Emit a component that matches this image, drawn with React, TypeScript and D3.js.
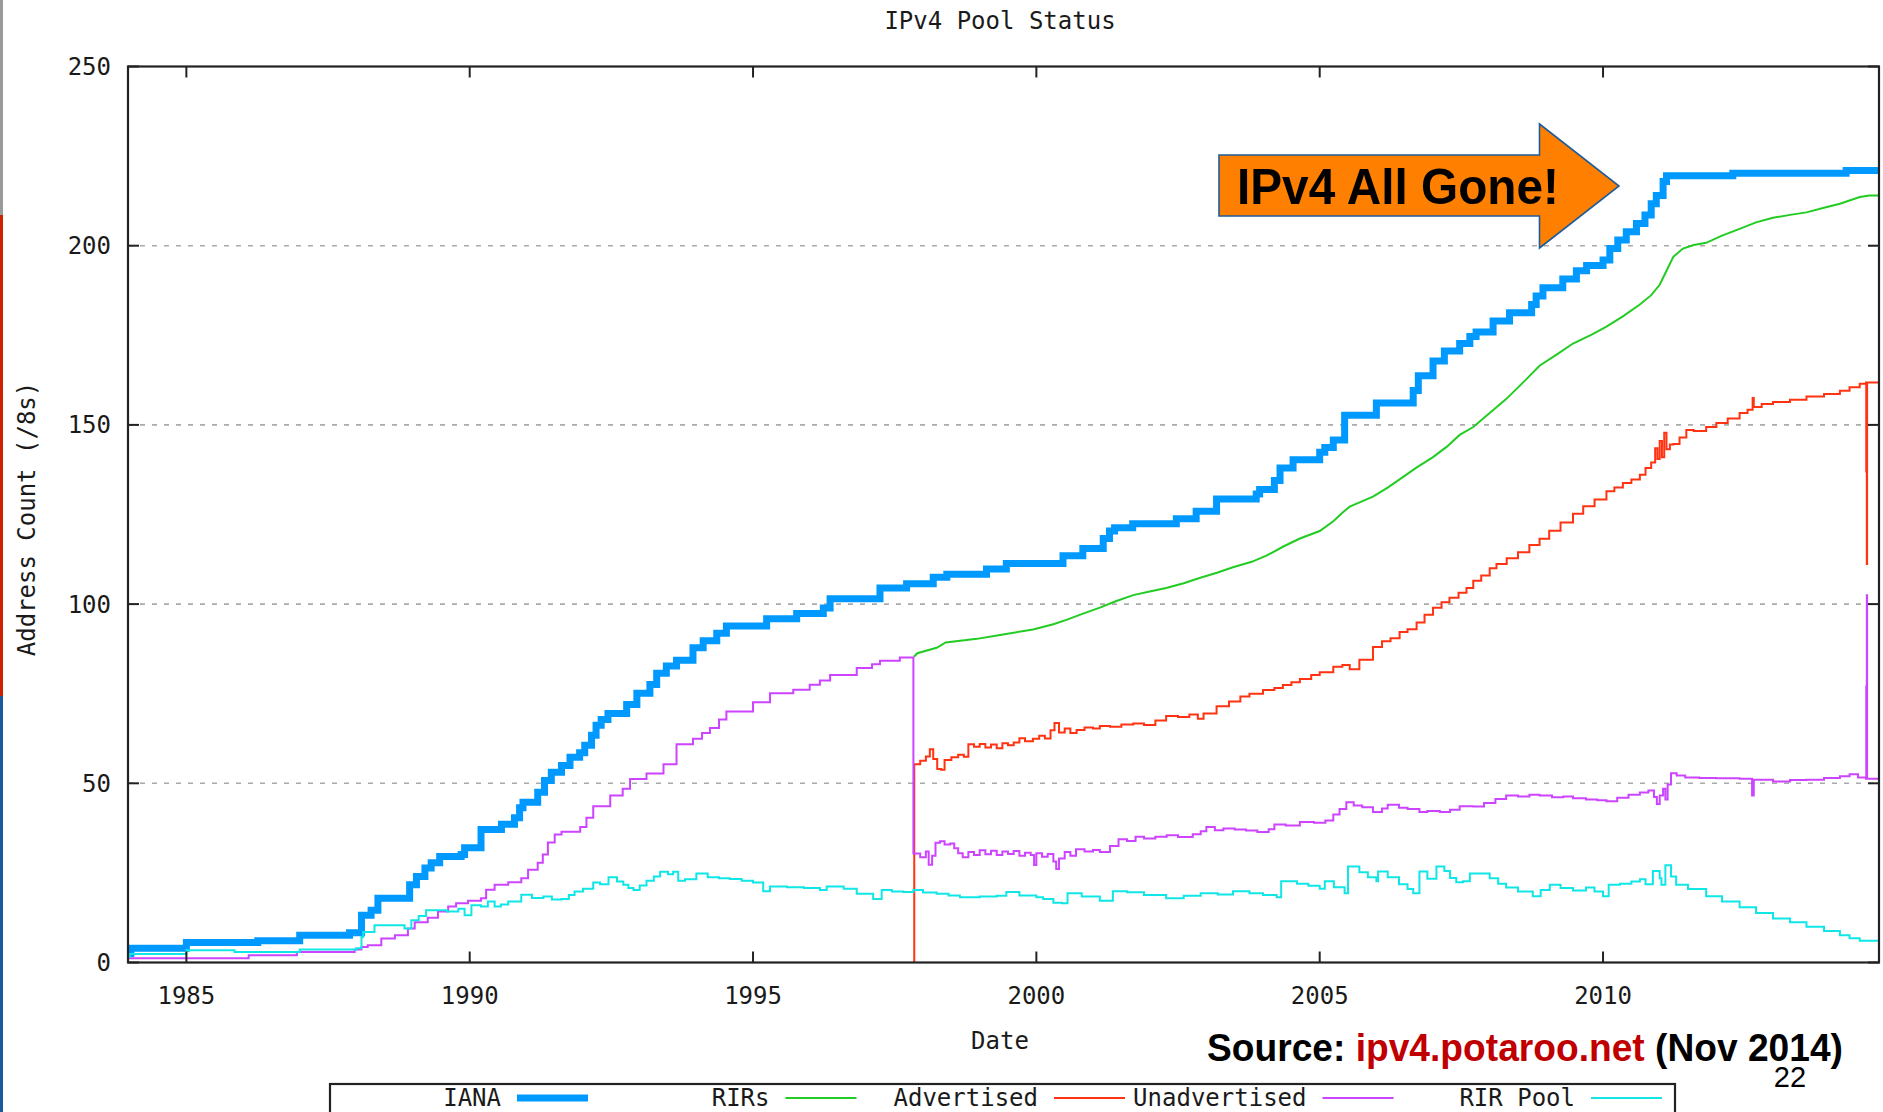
import React from "react";
import * as d3 from "d3";

type P = [number, number];

const ianaData: P[] = [
  [1983.97, 2.5], [1984.02, 4], [1985.0, 5.6], [1986.26, 6.1], [1987.0, 7.6], [1987.88, 8.3],
  [1988.09, 13.2], [1988.26, 14.6], [1988.38, 17.9], [1988.94, 21.7], [1989.06, 24.0], [1989.21, 26.4],
  [1989.32, 27.8], [1989.47, 29.6], [1989.85, 30.1], [1989.91, 32.0], [1990.2, 37.1], [1990.56, 38.6],
  [1990.79, 40.4], [1990.88, 43.2], [1990.94, 44.7], [1991.2, 47.5], [1991.32, 50.8], [1991.44, 53.1],
  [1991.62, 55.0], [1991.77, 57.3], [1991.94, 58.5], [1992.03, 60.6], [1992.15, 63.4], [1992.23, 66.2],
  [1992.32, 67.8], [1992.44, 69.5], [1992.77, 72.0], [1992.95, 75.1], [1993.18, 77.6], [1993.3, 80.7],
  [1993.47, 82.7], [1993.65, 84.3], [1993.94, 87.8], [1994.12, 89.8], [1994.36, 91.9], [1994.53, 93.9],
  [1995.24, 95.9], [1995.77, 97.4], [1996.24, 98.9], [1996.36, 101.5], [1997.24, 104.5], [1997.71, 105.7],
  [1998.18, 107.5], [1998.42, 108.3], [1999.12, 109.8], [1999.47, 111.3], [2000.47, 113.5], [2000.82, 115.5],
  [2001.18, 118.3], [2001.29, 120.4], [2001.38, 121.3], [2001.7, 122.4], [2002.47, 123.8], [2002.82, 125.9],
  [2003.18, 129.3], [2003.88, 130.7], [2003.94, 132.0], [2004.2, 134.5], [2004.3, 138], [2004.53, 140.3],
  [2005.0, 142.4], [2005.09, 143.7], [2005.24, 145.8], [2005.44, 152.7], [2006.0, 156.1], [2006.65, 159.6],
  [2006.74, 163.7], [2007.0, 167.8], [2007.2, 170.6], [2007.47, 172.7], [2007.65, 174.7], [2007.76, 175.9],
  [2008.06, 179.0], [2008.35, 181.3], [2008.74, 183.6], [2008.82, 186], [2008.94, 188.3], [2009.29, 190.7],
  [2009.53, 193], [2009.71, 194.5], [2010.0, 196], [2010.12, 199.2], [2010.26, 201.6], [2010.41, 203.9],
  [2010.59, 206.2], [2010.74, 208.6], [2010.85, 211.7], [2010.94, 214], [2011.06, 217.9], [2011.12, 219.5],
  [2012.29, 220.2], [2014.29, 221], [2014.87, 221],
];

const rirsData: P[] = [
  [1997.84, 85.3], [1997.9, 86.3], [1998.24, 87.8], [1998.4, 89.3], [1998.95, 90.3], [1999.36, 91.4],
  [1999.94, 92.9], [2000.3, 94.4], [2000.53, 95.6], [2000.8, 97.2], [2001.12, 99.0], [2001.4, 100.8],
  [2001.71, 102.5], [2002.0, 103.5], [2002.29, 104.5], [2002.6, 105.8], [2002.88, 107.3], [2003.2, 108.8],
  [2003.47, 110.3], [2003.8, 111.8], [2004.06, 113.5], [2004.35, 116.0], [2004.65, 118.3], [2005.0, 120.4],
  [2005.24, 123.1], [2005.4, 125.5], [2005.53, 127.2], [2005.94, 130], [2006.2, 132.5], [2006.41, 134.8],
  [2006.7, 138], [2007.0, 141], [2007.25, 144], [2007.47, 147.2], [2007.71, 149.4], [2008.0, 153.3],
  [2008.29, 157.2], [2008.6, 162], [2008.88, 166.5], [2009.2, 169.8], [2009.47, 172.7], [2009.8, 175.2],
  [2010.06, 177.4], [2010.35, 180.3], [2010.65, 183.6], [2010.85, 186.2], [2011.0, 189.1], [2011.12, 193],
  [2011.24, 196.9], [2011.41, 199.2], [2011.6, 200.2], [2011.82, 200.8], [2012.1, 202.8], [2012.41, 204.7],
  [2012.7, 206.5], [2013.0, 207.8], [2013.3, 208.6], [2013.59, 209.3], [2013.9, 210.6], [2014.18, 211.7],
  [2014.53, 213.6], [2014.7, 214], [2014.87, 214],
];

const advertisedData: P[] = [
  [1997.83, 0], [1997.845, 55.3], [1997.95, 56.3], [1998.05, 57.5], [1998.12, 59.5], [1998.18, 56.8],
  [1998.25, 54.0], [1998.32, 53.8], [1998.38, 56.5], [1998.5, 57.3], [1998.62, 58.0], [1998.72, 57.4],
  [1998.8, 60.9], [1998.9, 60.2], [1999.0, 61.0], [1999.1, 60.0], [1999.2, 60.8], [1999.3, 59.8],
  [1999.4, 61.2], [1999.5, 60.6], [1999.6, 61.4], [1999.7, 62.6], [1999.8, 61.7], [1999.94, 62.4],
  [2000.05, 63.3], [2000.15, 62.5], [2000.25, 64.8], [2000.32, 66.8], [2000.4, 64.2], [2000.5, 65.3],
  [2000.6, 64.0], [2000.71, 64.9], [2000.85, 65.6], [2001.0, 65.3], [2001.12, 66.0], [2001.3, 65.8],
  [2001.5, 66.4], [2001.71, 66.7], [2001.9, 66.3], [2002.1, 67.5], [2002.29, 68.8], [2002.5, 68.5],
  [2002.7, 69.2], [2002.85, 68.0], [2002.95, 69.5], [2003.18, 71.5], [2003.4, 72.8], [2003.6, 74.2],
  [2003.76, 75.0], [2004.0, 76.0], [2004.2, 76.6], [2004.35, 77.4], [2004.5, 78.2], [2004.65, 79.1],
  [2004.85, 80.2], [2005.0, 81.0], [2005.24, 82.5], [2005.4, 83.0], [2005.53, 81.8], [2005.7, 84.5],
  [2005.94, 88.0], [2006.1, 89.6], [2006.25, 90.5], [2006.41, 92.2], [2006.55, 93.0], [2006.71, 94.9],
  [2006.85, 97.0], [2007.0, 99.0], [2007.15, 100.5], [2007.29, 101.8], [2007.45, 103.2], [2007.59, 104.5],
  [2007.71, 106.5], [2007.85, 108], [2008.0, 110.0], [2008.12, 111.2], [2008.3, 112.8], [2008.5, 114.5],
  [2008.7, 116.5], [2008.88, 118.2], [2009.05, 120.5], [2009.25, 122.8], [2009.47, 125.2], [2009.65, 127.3],
  [2009.85, 129.2], [2010.06, 131.5], [2010.2, 132.5], [2010.35, 133.8], [2010.5, 134.8], [2010.65, 136.1],
  [2010.75, 138.0], [2010.85, 139.5], [2010.92, 143.5], [2010.96, 140.5], [2011.0, 145.5], [2011.04, 141.0],
  [2011.08, 147.8], [2011.12, 143.2], [2011.18, 144.5], [2011.24, 144.7], [2011.35, 146.5], [2011.47, 148.6],
  [2011.6, 148.3], [2011.82, 149.4], [2012.0, 150.5], [2012.2, 151.8], [2012.41, 153.3], [2012.55, 154.2],
  [2012.64, 157.5], [2012.66, 155.0], [2012.8, 155.8], [2013.0, 156.4], [2013.3, 157.0], [2013.59, 157.9],
  [2013.9, 158.6], [2014.18, 159.5], [2014.35, 160.5], [2014.53, 161.5], [2014.64, 161.8], [2014.645, 137],
  [2014.65, 161.8], [2014.655, 111.2], [2014.66, 161.8], [2014.87, 161.8],
];

const unadvertisedData: P[] = [
  [1983.97, 1.2], [1986.1, 2.0], [1986.95, 2.9], [1987.97, 3.6], [1988.09, 4.3], [1988.2, 4.8],
  [1988.44, 6.7], [1988.68, 7.6], [1988.91, 9.5], [1989.03, 11.2], [1989.26, 12.5], [1989.44, 14.2],
  [1989.62, 15.6], [1989.76, 16.5], [1989.97, 17.2], [1990.2, 17.9], [1990.29, 20.3], [1990.44, 21.7],
  [1990.68, 22.4], [1990.91, 23.5], [1991.03, 25.9], [1991.2, 27.8], [1991.29, 30.1], [1991.38, 33.5],
  [1991.5, 35.7], [1991.62, 36.5], [1991.95, 37.8], [1992.06, 40.4], [1992.18, 43.6], [1992.48, 46.6],
  [1992.7, 48.5], [1992.83, 51.2], [1993.12, 52.7], [1993.42, 55.3], [1993.65, 60.9], [1993.94, 62.4],
  [1994.1, 64.0], [1994.24, 65.4], [1994.4, 67.8], [1994.53, 70.0], [1995.0, 72.6], [1995.3, 75.1],
  [1995.71, 76.1], [1996.0, 77.5], [1996.18, 78.7], [1996.36, 80.2], [1996.83, 82.2], [1997.1, 83.2],
  [1997.24, 84.2], [1997.59, 85.1], [1997.83, 30.4], [1997.95, 29.4], [1998.05, 31.0], [1998.1, 27.3],
  [1998.16, 29.8], [1998.22, 33.4], [1998.3, 33.8], [1998.38, 32.9], [1998.48, 33.2], [1998.55, 31.9],
  [1998.62, 30.5], [1998.7, 29.4], [1998.8, 30.8], [1998.9, 30.0], [1999.0, 31.3], [1999.1, 30.2],
  [1999.2, 31.2], [1999.3, 30.0], [1999.4, 31.0], [1999.5, 30.3], [1999.6, 31.1], [1999.7, 29.8],
  [1999.8, 30.6], [1999.9, 30.0], [1999.96, 27.2], [2000.0, 30.5], [2000.1, 29.5], [2000.2, 30.3],
  [2000.3, 28.2], [2000.35, 26.1], [2000.4, 29.0], [2000.5, 30.8], [2000.6, 29.8], [2000.7, 31.6],
  [2000.85, 31.0], [2001.0, 31.4], [2001.12, 30.8], [2001.3, 32.5], [2001.45, 34.4], [2001.6, 33.9],
  [2001.75, 35.1], [2001.9, 34.6], [2002.1, 35.1], [2002.3, 35.5], [2002.5, 35.0], [2002.76, 35.8],
  [2002.9, 36.6], [2003.0, 37.8], [2003.15, 36.9], [2003.3, 37.4], [2003.5, 37.1], [2003.7, 36.8],
  [2003.9, 36.4], [2004.1, 37.2], [2004.2, 38.5], [2004.4, 38.2], [2004.65, 39.2], [2004.9, 39.0],
  [2005.1, 39.6], [2005.24, 41.3], [2005.35, 42.8], [2005.47, 44.7], [2005.6, 43.8], [2005.75, 43.3],
  [2005.94, 42.0], [2006.1, 43.0], [2006.2, 44.0], [2006.4, 43.2], [2006.55, 42.8], [2006.76, 42.0],
  [2006.9, 42.3], [2007.12, 42.0], [2007.3, 42.6], [2007.47, 43.6], [2007.71, 43.5], [2007.9, 44.5],
  [2008.1, 45.6], [2008.29, 46.6], [2008.5, 46.3], [2008.7, 46.8], [2008.88, 46.6], [2009.1, 46.1],
  [2009.3, 46.3], [2009.47, 45.8], [2009.7, 45.5], [2009.9, 45.3], [2010.06, 45.0], [2010.25, 46.0],
  [2010.45, 46.8], [2010.65, 47.4], [2010.8, 48.0], [2010.9, 46.2], [2010.95, 44.2], [2011.0, 46.6],
  [2011.06, 48.5], [2011.1, 45.5], [2011.14, 49.7], [2011.2, 52.8], [2011.3, 52.2], [2011.45, 51.6],
  [2011.7, 51.5], [2012.0, 51.4], [2012.41, 51.3], [2012.6, 51.3], [2012.63, 46.6], [2012.66, 51.0],
  [2013.0, 50.5], [2013.3, 50.9], [2013.59, 51.0], [2013.9, 51.5], [2014.18, 52.0], [2014.35, 52.5],
  [2014.5, 51.6], [2014.64, 51.3], [2014.645, 77], [2014.65, 51.3], [2014.655, 102.5], [2014.66, 51.3],
  [2014.87, 51.3],
];

const rirPoolData: P[] = [
  [1983.97, 1.5], [1984.0, 2.4], [1985.0, 3.4], [1985.85, 2.9], [1987.0, 3.6], [1988.0, 4.0],
  [1988.09, 7.1], [1988.12, 8.5], [1988.32, 10.4], [1988.85, 9.5], [1988.97, 11.8], [1989.1, 13.0],
  [1989.23, 14.6], [1989.6, 14.2], [1989.8, 15.0], [1989.91, 13.2], [1990.03, 16.0], [1990.2, 15.6],
  [1990.32, 17.0], [1990.44, 15.6], [1990.55, 16.2], [1990.68, 17.0], [1990.91, 18.9], [1991.1, 18.0],
  [1991.3, 18.4], [1991.45, 17.6], [1991.62, 17.7], [1991.75, 18.8], [1991.85, 19.8], [1992.0, 20.6],
  [1992.18, 22.3], [1992.3, 21.8], [1992.45, 23.8], [1992.6, 22.6], [1992.71, 21.7], [1992.8, 20.8],
  [1992.89, 20.2], [1993.0, 21.5], [1993.12, 22.8], [1993.25, 24.0], [1993.36, 25.3], [1993.5, 24.6],
  [1993.59, 25.3], [1993.68, 22.8], [1993.8, 23.2], [1994.0, 24.8], [1994.2, 23.8], [1994.4, 23.5],
  [1994.59, 23.3], [1994.8, 22.8], [1995.0, 22.3], [1995.18, 19.9], [1995.3, 21.2], [1995.6, 21.0],
  [1995.9, 20.8], [1996.18, 20.2], [1996.3, 21.2], [1996.6, 20.6], [1996.83, 19.2], [1997.12, 17.7],
  [1997.27, 20.2], [1997.45, 19.8], [1997.65, 19.7], [1997.83, 20.2], [1998.0, 19.5], [1998.24, 19.2],
  [1998.45, 18.7], [1998.65, 18.2], [1999.0, 18.4], [1999.3, 18.6], [1999.47, 19.7], [1999.7, 18.7],
  [2000.0, 18.2], [2000.12, 17.7], [2000.3, 16.7], [2000.45, 16.5], [2000.55, 19.3], [2000.8, 18.4],
  [2001.12, 17.2], [2001.35, 19.9], [2001.6, 19.6], [2001.9, 18.8], [2002.29, 17.9], [2002.6, 18.6],
  [2002.9, 19.3], [2003.2, 19.0], [2003.47, 19.9], [2003.76, 19.3], [2004.0, 18.8], [2004.24, 18.2],
  [2004.32, 22.7], [2004.6, 22.0], [2004.8, 21.4], [2005.0, 20.6], [2005.09, 22.7], [2005.25, 21.0],
  [2005.44, 19.3], [2005.5, 26.8], [2005.7, 25.2], [2005.85, 23.8], [2006.0, 22.7], [2006.03, 25.4],
  [2006.2, 23.8], [2006.4, 21.8], [2006.55, 20.5], [2006.65, 19.3], [2006.76, 25.4], [2006.9, 23.4],
  [2007.06, 26.8], [2007.2, 25.5], [2007.3, 23.6], [2007.41, 22.4], [2007.53, 22.7], [2007.65, 24.8],
  [2007.82, 24.8], [2008.0, 23.5], [2008.15, 22.0], [2008.29, 20.9], [2008.5, 19.8], [2008.76, 18.5],
  [2008.9, 20.2], [2009.06, 21.7], [2009.25, 20.8], [2009.47, 20.1], [2009.7, 20.9], [2009.85, 19.8],
  [2010.0, 18.5], [2010.1, 21.7], [2010.3, 22.0], [2010.5, 22.6], [2010.65, 23.2], [2010.75, 21.8],
  [2010.88, 25.5], [2011.0, 23.5], [2011.03, 21.7], [2011.1, 27.1], [2011.2, 24.0], [2011.29, 21.7],
  [2011.5, 20.5], [2011.82, 18.5], [2012.1, 17.0], [2012.41, 15.4], [2012.7, 13.8], [2013.0, 12.3],
  [2013.3, 11.2], [2013.59, 10.0], [2013.9, 8.8], [2014.18, 7.6], [2014.35, 6.8], [2014.53, 6.1],
  [2014.87, 6.1],
];

const xTicks = [1985, 1990, 1995, 2000, 2005, 2010];
const yTicks = [0, 50, 100, 150, 200, 250];
const gridValues = [50, 100, 150, 200];
const seriesNames = ["IANA", "RIRs", "Advertised", "Unadvertised", "RIR Pool"];
const seriesColors = ["#0099ff", "#22cc22", "#ff3311", "#cc44ff", "#11e6e6"];
const seriesWidths = [7, 2, 2, 2, 2];

const MONO = "'DejaVu Sans Mono', monospace";
const SANS = "'Liberation Sans', Arial, sans-serif";

export default function App() {
  const W = 1883;
  const H = 1112;
  const L = 128, R = 1879, T = 66.5, B = 962.5;
  const x = d3.scaleLinear().domain([1983.97, 2014.87]).range([L, R]);
  const y = d3.scaleLinear().domain([0, 250]).range([B, T]);
  const step = d3.line<P>().x((d) => x(d[0])).y((d) => y(d[1])).curve(d3.curveStepAfter);
  const lin = d3.line<P>().x((d) => x(d[0])).y((d) => y(d[1])).curve(d3.curveLinear);

  const series: { data: P[]; gen: typeof step }[] = [
    { data: ianaData, gen: step },
    { data: rirsData, gen: lin },
    { data: advertisedData, gen: step },
    { data: unadvertisedData, gen: step },
    { data: rirPoolData, gen: step },
  ];

  const tickLen = 11;
  const textFill = "#1a1a1a";

  return (
    <svg
      width={W}
      height={H}
      viewBox={`0 0 ${W} ${H}`}
      style={{ position: "absolute", left: 0, top: 0, background: "#fff" }}
    >
      <rect x={0} y={0} width={W} height={H} fill="#fff" />
      {/* left-edge slide decoration */}
      <rect x={0} y={0} width={3} height={215} fill="#9a9a9a" />
      <rect x={0} y={215} width={3} height={481} fill="#cc2200" />
      <rect x={0} y={696} width={3} height={H - 696} fill="#1a5a9c" />

      {/* title */}
      <text x={1000} y={29} fontFamily={MONO} fontSize={24} fill={textFill} textAnchor="middle">
        IPv4 Pool Status
      </text>

      {/* grid */}
      {gridValues.map((v) => (
        <line key={"g" + v} x1={L} x2={R} y1={y(v)} y2={y(v)} stroke="#aaaaaa" strokeWidth={1.6} strokeDasharray="5 7" />
      ))}

      <defs>
        <clipPath id="plotclip">
          <rect x={L} y={T} width={R - L} height={B - T} />
        </clipPath>
      </defs>

      {/* series */}
      <g clipPath="url(#plotclip)">
        {series.map((s, i) => (
          <path
            key={seriesNames[i]}
            d={s.gen(s.data) || ""}
            fill="none"
            stroke={seriesColors[i]}
            strokeWidth={seriesWidths[i]}
            strokeLinejoin="miter"
            strokeLinecap="butt"
          />
        ))}
      </g>

      {/* ticks */}
      {yTicks.map((v) => (
        <g key={"yt" + v}>
          <line x1={L} x2={L + tickLen} y1={y(v)} y2={y(v)} stroke="#222" strokeWidth={2} />
          <line x1={R} x2={R - tickLen} y1={y(v)} y2={y(v)} stroke="#222" strokeWidth={2} />
          <text x={111} y={y(v) + 8.5} fontFamily={MONO} fontSize={24} fill={textFill} textAnchor="end">
            {v}
          </text>
        </g>
      ))}
      {xTicks.map((v) => (
        <g key={"xt" + v}>
          <line x1={x(v)} x2={x(v)} y1={B} y2={B - tickLen} stroke="#222" strokeWidth={2} />
          <line x1={x(v)} x2={x(v)} y1={T} y2={T + tickLen} stroke="#222" strokeWidth={2} />
          <text x={x(v)} y={1004} fontFamily={MONO} fontSize={24} fill={textFill} textAnchor="middle">
            {v}
          </text>
        </g>
      ))}

      {/* border */}
      <rect x={L} y={T} width={R - L} height={B - T} fill="none" stroke="#222" strokeWidth={2.2} />

      {/* axis labels */}
      <text x={1000} y={1049} fontFamily={MONO} fontSize={24} fill={textFill} textAnchor="middle">
        Date
      </text>
      <text
        transform={`translate(35, 519) rotate(-90)`}
        fontFamily={MONO}
        fontSize={24}
        fill={textFill}
        textAnchor="middle"
      >
        Address Count (/8s)
      </text>

      {/* legend */}
      <rect x={330} y={1084} width={1345} height={60} fill="#fff" stroke="#222" strokeWidth={2.2} />
      {seriesNames.map((n, i) => {
        const tr = 501 + i * 268.5;
        return (
          <g key={"lg" + n}>
            <text x={tr} y={1106} fontFamily={MONO} fontSize={24} fill={textFill} textAnchor="end">
              {n}
            </text>
            <line x1={tr + 16} x2={tr + 87} y1={1098} y2={1098} stroke={seriesColors[i]} strokeWidth={seriesWidths[i]} />
          </g>
        );
      })}

      {/* arrow callout */}
      <path
        d="M1219,155 L1539.5,155 L1539.5,124 L1619,186 L1539.5,248 L1539.5,216 L1219,216 Z"
        fill="#ff8000"
        stroke="#1f5c99"
        strokeWidth={1.6}
      />
      <text
        x={1237}
        y={204}
        fontFamily={SANS}
        fontWeight="bold"
        fontSize={50}
        fill="#000"
        textLength={322}
        lengthAdjust="spacingAndGlyphs"
      >
        IPv4 All Gone!
      </text>

      {/* source */}
      <text
        x={1207}
        y={1061}
        fontFamily={SANS}
        fontWeight="bold"
        fontSize={38}
        fill="#000"
        textLength={636}
        lengthAdjust="spacingAndGlyphs"
      >
        <tspan>Source: </tspan>
        <tspan fill="#c00000">ipv4.potaroo.net</tspan>
        <tspan> (Nov 2014)</tspan>
      </text>
      <text x={1790} y={1087} fontFamily={SANS} fontSize={29} fill="#000" textAnchor="middle">
        22
      </text>
    </svg>
  );
}
